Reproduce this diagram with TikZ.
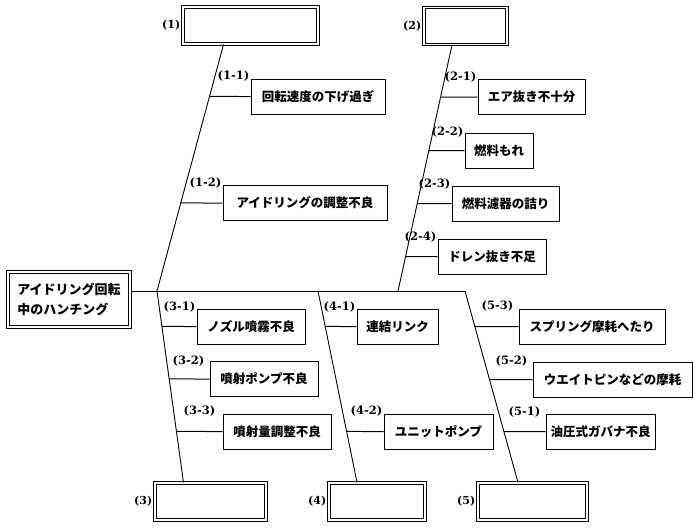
\documentclass[tikz,border=0pt]{standalone}
\usepackage{fontspec}
\usepackage{tikz}
\newfontfamily\jpfont{Noto Sans CJK JP}
\newfontfamily\nrfont{DejaVu Serif}

\tikzset{
  kategorie/.style={draw, double, double distance=1.2pt, line width=1.1pt,
    minimum height=37pt, inner sep=0pt},
  ursache/.style={draw, line width=1pt, minimum height=35pt, inner sep=0pt,
    font=\jpfont\bfseries\fontsize{12.5}{14}\selectfont},
  nummer/.style={font=\nrfont\fontsize{11.5}{14}\selectfont\bfseries, inner sep=1pt, anchor=east},
  hauptnr/.style={font=\nrfont\fontsize{11}{13}\selectfont\bfseries, inner sep=2pt, anchor=east},
  ast/.style={line width=1pt},
  graete/.style={line width=0.9pt}
}

\begin{document}
\begin{tikzpicture}[x=1pt, y=-1pt]
  \useasboundingbox (0,0) rectangle (700,527);

  % Wirkung (linker Kasten)
  \node[kategorie, minimum width=122pt, minimum height=55pt, align=left,
    font=\jpfont\bfseries\fontsize{13}{20}\selectfont] (wirkung) at (69,299.5)
    {アイドリング回転\\中のハンチング};

  % Hauptursachen (Kaesten oben und unten)
  \node[kategorie, minimum width=135pt] (c1) at (250.5,25.5) {};
  \node[kategorie, minimum width=83pt] (c2) at (465.5,26) {};
  \node[kategorie, minimum width=111pt] (c3) at (210.5,501.5) {};
  \node[kategorie, minimum width=96pt] (c4) at (377,501.5) {};
  \node[kategorie, minimum width=109pt] (c5) at (532.5,501.5) {};

  \node[hauptnr] (n1) at (c1.west) {(1)};
  \node[hauptnr] (n2) at (c2.west) {(2)};
  \node[hauptnr] (n3) at (c3.west) {(3)};
  \node[hauptnr] (n4) at (c4.west) {(4)};
  \node[hauptnr] (n5) at (c5.west) {(5)};

  % Punkte auf dem Rueckgrat
  \coordinate (j1) at (157,291);
  \coordinate (j2) at (398,291);
  \coordinate (j4) at (318,291);
  \coordinate (j5) at (465,291);
  \coordinate (b1) at ([xshift=-27pt]c1.south);
  \coordinate (b2) at ([xshift=-13.5pt]c2.south);
  \coordinate (b3) at ([xshift=-27pt]c3.north);
  \coordinate (b4) at ([xshift=-20pt]c4.north);
  \coordinate (b5) at ([xshift=-14.5pt]c5.north);

  % Rueckgrat und Graeten
  \draw[graete] (wirkung.east |- j1) -- (j5);
  \draw[graete] (b1) -- (j1) -- (b3);
  \draw[graete] (b2) -- (j2);
  \draw[graete] (j4) -- (b4);
  \draw[graete] (j5) -- (b5);

  % Nebenursachen (1)
  \node[ursache, minimum width=134pt] (s11) at (318,96.5) {回転速度の下げ過ぎ};
  \node[ursache, minimum width=164pt] (s12) at (305,203) {アイドリングの調整不良};

  % Nebenursachen (2)
  \node[ursache, minimum width=107pt] (s21) at (531.5,97) {エア抜き不十分};
  \node[ursache, minimum width=68pt] (s22) at (499,150.5) {燃料もれ};
  \node[ursache, minimum width=107pt] (s23) at (505.5,203.5) {燃料濾器の詰り};
  \node[ursache, minimum width=108pt] (s24) at (492,256.5) {ドレン抜き不足};

  % Nebenursachen (3)
  \node[ursache, minimum width=108pt] (s31) at (251,326.5) {ノズル噴霧不良};
  \node[ursache, minimum width=108pt] (s32) at (264,379) {噴射ポンプ不良};
  \node[ursache, minimum width=108pt] (s33) at (277,431.5) {噴射量調整不良};

  % Nebenursachen (4)
  \node[ursache, minimum width=81pt] (s41) at (397.5,326.5) {連結リンク};
  \node[ursache, minimum width=109pt] (s42) at (438.5,431.5) {ユニットポンプ};

  % Nebenursachen (5)
  \node[ursache, minimum width=146pt] (s53) at (592,326.5) {スプリング摩耗へたり};
  \node[ursache, minimum width=159pt] (s52) at (612.5,379.5) {ウエイトピンなどの摩耗};
  \node[ursache, minimum width=109pt] (s51) at (600.5,431.5) {油圧式ガバナ不良};

  % Verbindungen zu den Graeten
  \draw[ast] (s11.west) -- (intersection of b1--j1 and s11.west--s11.east);
  \draw[ast] (s12.west) -- (intersection of b1--j1 and s12.west--s12.east);
  \draw[ast] (s21.west) -- (intersection of b2--j2 and s21.west--s21.east);
  \draw[ast] (s22.west) -- (intersection of b2--j2 and s22.west--s22.east);
  \draw[ast] (s23.west) -- (intersection of b2--j2 and s23.west--s23.east);
  \draw[ast] (s24.west) -- (intersection of b2--j2 and s24.west--s24.east);
  \draw[ast] (s31.west) -- (intersection of j1--b3 and s31.west--s31.east);
  \draw[ast] (s32.west) -- (intersection of j1--b3 and s32.west--s32.east);
  \draw[ast] (s33.west) -- (intersection of j1--b3 and s33.west--s33.east);
  \draw[ast] (s41.west) -- (intersection of j4--b4 and s41.west--s41.east);
  \draw[ast] (s42.west) -- (intersection of j4--b4 and s42.west--s42.east);
  \draw[ast] (s53.west) -- (intersection of j5--b5 and s53.west--s53.east);
  \draw[ast] (s52.west) -- (intersection of j5--b5 and s52.west--s52.east);
  \draw[ast] (s51.west) -- (intersection of j5--b5 and s51.west--s51.east);

  % Nummern
  \node[nummer] (l11) at ([yshift=2pt]s11.north west) {(1-1)};
  \node[nummer] (l12) at ([yshift=2pt]s12.north west) {(1-2)};
  \node[nummer] (l21) at ([yshift=2pt]s21.north west) {(2-1)};
  \node[nummer] (l22) at ([yshift=0pt]s22.north west) {(2-2)};
  \node[nummer] (l23) at ([yshift=1pt]s23.north west) {(2-3)};
  \node[nummer] (l24) at ([yshift=1pt]s24.north west) {(2-4)};
  \node[nummer] (l31) at ([yshift=1pt]s31.north west) {(3-1)};
  \node[nummer] (l32) at ([xshift=-4pt]s32.north west) {(3-2)};
  \node[nummer] (l33) at ([xshift=-6pt,yshift=2pt]s33.north west) {(3-3)};
  \node[nummer] (l41) at ([yshift=1pt]s41.north west) {(4-1)};
  \node[nummer] (l42) at ([yshift=2pt]s42.north west) {(4-2)};
  \node[nummer] (l53) at ([xshift=-4pt,yshift=2pt]s53.north west) {(5-3)};
  \node[nummer] (l52) at ([xshift=-4pt]s52.north west) {(5-2)};
  \node[nummer] (l51) at ([xshift=-4pt,yshift=1pt]s51.north west) {(5-1)};

\end{tikzpicture}
\end{document}
